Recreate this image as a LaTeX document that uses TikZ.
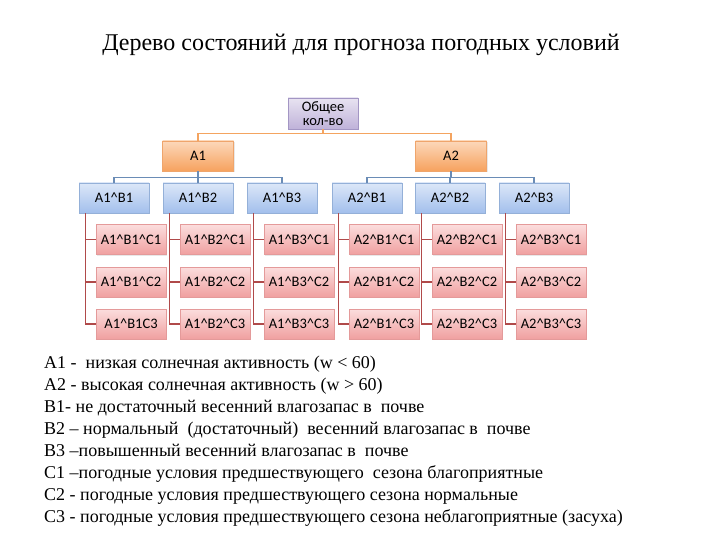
\documentclass[tikz,border=0pt]{standalone}
\usepackage{fontspec}
\setmainfont{Liberation Serif}
\newfontfamily\boxfont{Carlito}
\usetikzlibrary{shadows}
\definecolor{rootTop}{HTML}{E8E3F1}
\definecolor{rootBot}{HTML}{BFB2D9}
\definecolor{rootDraw}{HTML}{A396C4}
\definecolor{aTop}{HTML}{FCD8BA}
\definecolor{aBot}{HTML}{F6A25F}
\definecolor{aDraw}{HTML}{EFA56C}
\definecolor{bTop}{HTML}{DCE7F8}
\definecolor{bBot}{HTML}{A2BFEC}
\definecolor{bDraw}{HTML}{94B0D8}
\definecolor{cTop}{HTML}{FBDDDD}
\definecolor{cBot}{HTML}{F0A0A0}
\definecolor{cDraw}{HTML}{E49A9A}
\definecolor{lnA}{HTML}{F4A460}
\definecolor{lnB}{HTML}{6A8CB6}
\definecolor{lnC}{HTML}{B04A4A}
\tikzset{
  bx/.style={rectangle, minimum height=30pt, inner sep=0pt, font=\boxfont\fontsize{14.5}{14.5}\selectfont,
    drop shadow={opacity=0.18, shadow xshift=1.2pt, shadow yshift=-1.2pt}, line width=0.6pt},
  rootbox/.style={bx, minimum width=70pt, minimum height=31pt, top color=rootTop, bottom color=rootBot, draw=rootDraw, align=center},
  abox/.style={bx, minimum width=71pt, top color=aTop, bottom color=aBot, draw=aDraw},
  bbox/.style={bx, minimum width=70pt, top color=bTop, bottom color=bBot, draw=bDraw},
  cbox/.style={bx, minimum width=70pt, top color=cTop, bottom color=cBot, draw=cDraw},
  lineA/.style={draw=lnA, line width=1.5pt},
  lineB/.style={draw=lnB, line width=1.2pt},
  lineC/.style={draw=lnC, line width=1.1pt},
  legend/.style={anchor=base west, inner sep=0pt, font=\fontsize{18}{20}\selectfont}
}
\begin{document}
\begin{tikzpicture}[x=1pt,y=-1pt]
\useasboundingbox (0,0) rectangle (720,540);
\node[inner sep=0pt, font=\fontsize{24}{26}\selectfont] (title) at (361,45) {Дерево состояний для прогноза погодных условий};

\node[rootbox] (root) at (323,113.5) {Общее\\кол-во};
\node[abox] (A1) at (198,156) {A1};
\node[abox] (A2) at (451,156) {A2};

\node[bbox] (A1B1) at (114,198) {A1\textasciicircum B1};
\node[bbox] (A1B2) at (198,198) {A1\textasciicircum B2};
\node[bbox] (A1B3) at (282,198) {A1\textasciicircum B3};
\node[bbox] (A2B1) at (367,198) {A2\textasciicircum B1};
\node[bbox] (A2B2) at (450,198) {A2\textasciicircum B2};
\node[bbox] (A2B3) at (534,198) {A2\textasciicircum B3};

% C level
\node[cbox] (A1B1C1) at (131,239.5) {A1\textasciicircum B1\textasciicircum C1};
\node[cbox] (A1B1C2) at (131,282) {A1\textasciicircum B1\textasciicircum C2};
\node[cbox] (A1B1C3) at (131,324) {A1\textasciicircum B1C3};
\node[cbox] (A1B2C1) at (215,239.5) {A1\textasciicircum B2\textasciicircum C1};
\node[cbox] (A1B2C2) at (215,282) {A1\textasciicircum B2\textasciicircum C2};
\node[cbox] (A1B2C3) at (215,324) {A1\textasciicircum B2\textasciicircum C3};
\node[cbox] (A1B3C1) at (299,239.5) {A1\textasciicircum B3\textasciicircum C1};
\node[cbox] (A1B3C2) at (299,282) {A1\textasciicircum B3\textasciicircum C2};
\node[cbox] (A1B3C3) at (299,324) {A1\textasciicircum B3\textasciicircum C3};
\node[cbox] (A2B1C1) at (384,239.5) {A2\textasciicircum B1\textasciicircum C1};
\node[cbox] (A2B1C2) at (384,282) {A2\textasciicircum B1\textasciicircum C2};
\node[cbox] (A2B1C3) at (384,324) {A2\textasciicircum B1\textasciicircum C3};
\node[cbox] (A2B2C1) at (467,239.5) {A2\textasciicircum B2\textasciicircum C1};
\node[cbox] (A2B2C2) at (467,282) {A2\textasciicircum B2\textasciicircum C2};
\node[cbox] (A2B2C3) at (467,324) {A2\textasciicircum B2\textasciicircum C3};
\node[cbox] (A2B3C1) at (551,239.5) {A2\textasciicircum B3\textasciicircum C1};
\node[cbox] (A2B3C2) at (551,282) {A2\textasciicircum B3\textasciicircum C2};
\node[cbox] (A2B3C3) at (551,324) {A2\textasciicircum B3\textasciicircum C3};

% connectors
\draw[lineA] (root.south) -- ++(0,4) -| (A1.north);
\draw[lineA] (root.south) -- ++(0,4) -| (A2.north);
\foreach \a in {A1,A2}{
  \foreach \b in {B1,B2,B3}{
    \draw[lineB] (\a.south) -- ++(0,6) -| (\a\b.north);
    \foreach \c in {C1,C2,C3}{
      \draw[lineC] ([xshift=7pt]\a\b.south west) |- (\a\b\c.west);
    }
  }
}

% legend
\node[legend] (l1) at (44,368) {A1 -\ \ низкая солнечная активность (w < 60)};
\node[legend] (l2) at (44,390) {A2 - высокая солнечная активность (w > 60)};
\node[legend] (l3) at (44,412) {B1- не достаточный весенний влагозапас в\ \ почве};
\node[legend] (l4) at (44,434) {B2 – нормальный\ \ (достаточный)\ \ весенний влагозапас в\ \ почве};
\node[legend] (l5) at (44,456) {B3 –повышенный весенний влагозапас в\ \ почве};
\node[legend] (l6) at (44,478) {C1 –погодные условия предшествующего\ \ сезона благоприятные};
\node[legend] (l7) at (44,500) {C2 - погодные условия предшествующего сезона нормальные};
\node[legend] (l8) at (44,522) {C3 - погодные условия предшествующего сезона неблагоприятные (засуха)};
\end{tikzpicture}
\end{document}
